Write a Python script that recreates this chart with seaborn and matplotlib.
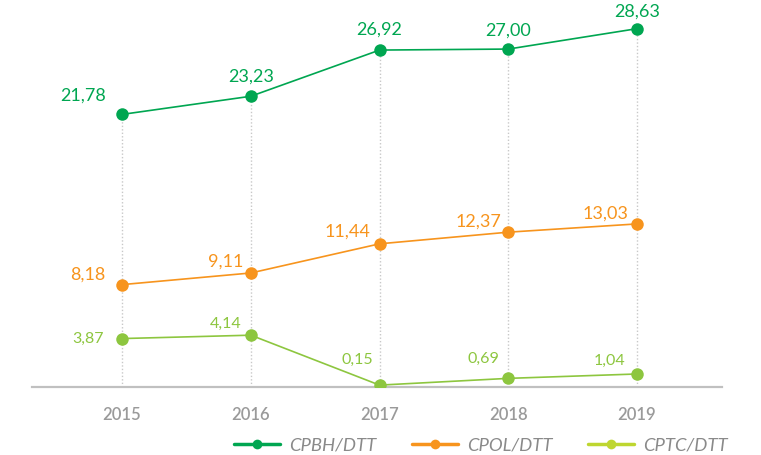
import matplotlib
matplotlib.use("Agg")
import matplotlib.pyplot as plt
from matplotlib.lines import Line2D
import seaborn as sns
import pandas as pd

years = [2015, 2016, 2017, 2018, 2019]
cpbh = [21.78, 23.23, 26.92, 27.00, 28.63]
cpol = [8.18, 9.11, 11.44, 12.37, 13.03]
cptc = [3.87, 4.14, 0.15, 0.69, 1.04]
series_names = ["CPBH/DTT", "CPOL/DTT", "CPTC/DTT"]

colors = {"CPBH/DTT": "#00a651", "CPOL/DTT": "#f7941d", "CPTC/DTT": "#8dc63f"}
legend_colors = ["#00a651", "#f7941d", "#bed630"]

df = pd.DataFrame({
    "year": years * 3,
    "value": cpbh + cpol + cptc,
    "series": [n for n in series_names for _ in years],
})

sns.set_style("white")
plt.rcParams["font.family"] = ["Lato", "DejaVu Sans"]

fig = plt.figure(figsize=(7.61, 4.56), dpi=100)
ax = fig.add_axes([32 / 761, 68 / 456, 690 / 761, 388 / 456])

# dotted guides from the top series down to the axis
ax.vlines(years, 0, cpbh, colors="#c8c8c8", linestyles=(0, (1, 1.5)),
          linewidth=1, zorder=0)

sns.lineplot(data=df, x="year", y="value", hue="series", palette=colors,
             marker="o", markersize=9, markeredgewidth=0, linewidth=1.2,
             legend=False, ax=ax, zorder=3)

ax.set_xlim(2015 - 0.70, 2019 + 0.66)
ax.set_ylim(0, 31)

green_off = [(-39, 20), (0, 21), (0, 21), (0, 19), (0, 18)]
orange_off = [(-34, 11), (-25, 12), (-32, 13), (-30, 12), (-32, 11)]
lime_off = [(-34, 1), (-25, 12), (-22, 26), (-25, 20), (-27, 14)]

def fmt(v):
    return f"{v:.2f}".replace(".", ",")

for vals, offs, col, fs in [(cpbh, green_off, "#00a651", 13),
                            (cpol, orange_off, "#f7941d", 13),
                            (cptc, lime_off, "#8dc63f", 11.5)]:
    for x, v, (dx, dy) in zip(years, vals, offs):
        ax.annotate(fmt(v), (x, v), xytext=(dx, dy), textcoords="offset pixels",
                    ha="center", va="center", color=col, fontsize=fs)

sns.despine(ax=ax, left=True, top=True, right=True)
ax.spines["bottom"].set_color("#c0c0c0")
ax.spines["bottom"].set_linewidth(1.6)
ax.set_yticks([])
ax.set_xticks(years)
ax.set_xticklabels([str(y) for y in years], color="#9a9a9a", fontsize=12,
                   fontweight="semibold")
ax.tick_params(axis="x", length=0, pad=14)
ax.set_xlabel("")
ax.set_ylabel("")

handles = [Line2D([0], [0], color=c, lw=2.5, marker="o", markersize=7,
                  markeredgewidth=0) for c in legend_colors]
fig.legend(handles, series_names, loc="center", bbox_to_anchor=(481 / 761, 1 - 446 / 456),
           ncol=3, frameon=False, handlelength=2.5, handletextpad=0.5,
           columnspacing=1.9, prop={"style": "italic", "size": 13.3},
           labelcolor="#8a8a8a", borderpad=0.1)

fig.savefig("out.png", dpi=100)
